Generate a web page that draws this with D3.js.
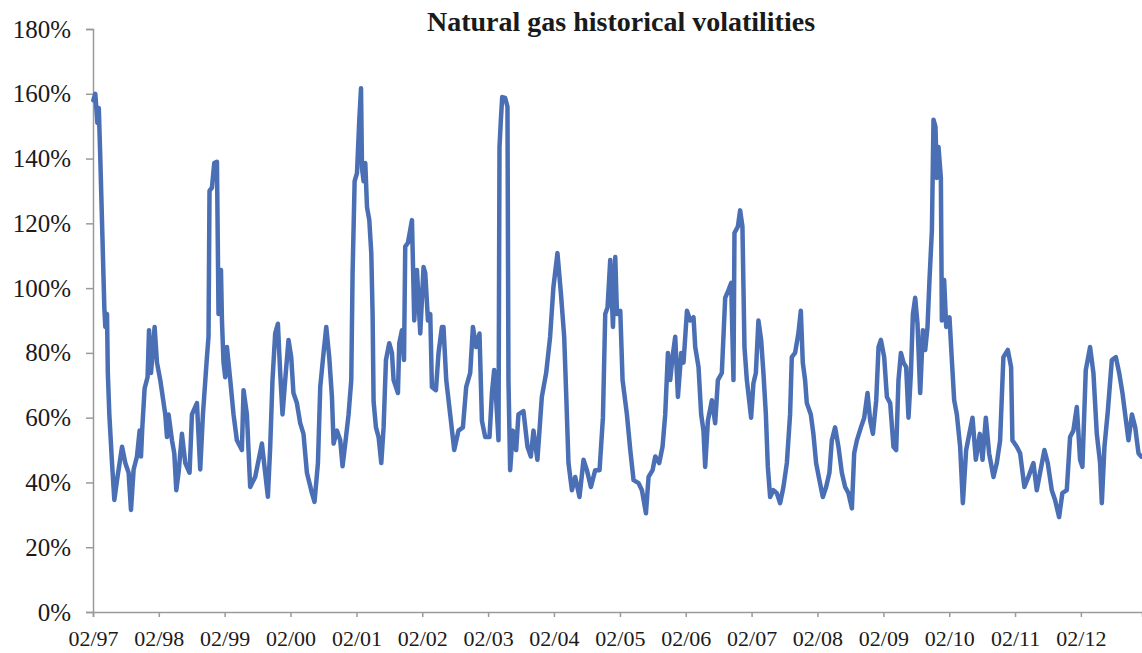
<!DOCTYPE html>
<html>
<head>
<meta charset="utf-8">
<script src="https://cdn.jsdelivr.net/npm/d3@7"></script>
<style>
  html, body { margin: 0; padding: 0; background: #ffffff; }
  svg { display: block; }
</style>
</head>
<body>
<svg id="chart" width="1142" height="653"></svg>
<script>
// ---- data (decimal years, volatility in %) ----
const title = "Natural gas historical volatilities";
const yTicks = [0, 20, 40, 60, 80, 100, 120, 140, 160, 180];
const xTickYears = [1997, 1998, 1999, 2000, 2001, 2002, 2003, 2004, 2005, 2006, 2007, 2008, 2009, 2010, 2011, 2012];

const dates = [
  1997.090, 1997.120, 1997.151, 1997.173, 1997.196, 1997.257, 1997.272, 1997.298, 1997.310, 1997.333,
  1997.374, 1997.409, 1997.450, 1997.526, 1997.576, 1997.626, 1997.662, 1997.702, 1997.753, 1997.793,
  1997.814, 1997.834, 1997.869, 1997.914, 1997.936, 1997.966, 1998.021, 1998.057, 1998.107, 1998.183,
  1998.209, 1998.233, 1998.285, 1998.320, 1998.350, 1998.385, 1998.436, 1998.487, 1998.552, 1998.588,
  1998.664, 1998.714, 1998.755, 1998.816, 1998.840, 1998.855, 1998.892, 1998.927, 1998.968, 1998.992,
  1999.029, 1999.044, 1999.068, 1999.094, 1999.120, 1999.170, 1999.220, 1999.271, 1999.347, 1999.372,
  1999.423, 1999.473, 1999.549, 1999.651, 1999.742, 1999.777, 1999.812, 1999.853, 1999.894, 1999.929,
  1999.964, 2000.005, 2000.055, 2000.096, 2000.130, 2000.182, 2000.232, 2000.282, 2000.334, 2000.410,
  2000.449, 2000.501, 2000.536, 2000.586, 2000.627, 2000.672, 2000.713, 2000.738, 2000.789, 2000.839,
  2000.874, 2000.915, 2000.965, 2001.006, 2001.026, 2001.057, 2001.093, 2001.128, 2001.154, 2001.169,
  2001.193, 2001.219, 2001.245, 2001.280, 2001.310, 2001.330, 2001.345, 2001.381, 2001.421, 2001.462,
  2001.497, 2001.533, 2001.583, 2001.624, 2001.649, 2001.715, 2001.735, 2001.776, 2001.807, 2001.826,
  2001.867, 2001.902, 2001.928, 2001.963, 2002.004, 2002.054, 2002.104, 2002.130, 2002.171, 2002.206,
  2002.231, 2002.292, 2002.332, 2002.383, 2002.407, 2002.449, 2002.509, 2002.570, 2002.635, 2002.702,
  2002.752, 2002.813, 2002.854, 2002.904, 2002.954, 2002.991, 2003.041, 2003.106, 2003.143, 2003.177,
  2003.208, 2003.243, 2003.258, 2003.279, 2003.299, 2003.344, 2003.379, 2003.394, 2003.420, 2003.461,
  2003.511, 2003.546, 2003.622, 2003.683, 2003.734, 2003.774, 2003.834, 2003.901, 2003.967, 2004.027,
  2004.077, 2004.138, 2004.190, 2004.240, 2004.270, 2004.305, 2004.357, 2004.407, 2004.472, 2004.533,
  2004.584, 2004.645, 2004.710, 2004.776, 2004.827, 2004.862, 2004.897, 2004.938, 2004.979, 2005.014,
  2005.040, 2005.090, 2005.125, 2005.191, 2005.242, 2005.292, 2005.368, 2005.419, 2005.480, 2005.520,
  2005.581, 2005.622, 2005.682, 2005.732, 2005.773, 2005.814, 2005.849, 2005.884, 2005.925, 2005.966,
  2006.016, 2006.051, 2006.103, 2006.153, 2006.203, 2006.229, 2006.279, 2006.319, 2006.354, 2006.380,
  2006.421, 2006.482, 2006.532, 2006.573, 2006.633, 2006.684, 2006.734, 2006.775, 2006.810, 2006.825,
  2006.877, 2006.911, 2006.946, 2006.977, 2007.013, 2007.048, 2007.078, 2007.113, 2007.150, 2007.189,
  2007.230, 2007.265, 2007.302, 2007.332, 2007.367, 2007.417, 2007.468, 2007.519, 2007.569, 2007.621,
  2007.670, 2007.696, 2007.746, 2007.796, 2007.833, 2007.863, 2007.898, 2007.924, 2007.985, 2008.024,
  2008.065, 2008.115, 2008.167, 2008.217, 2008.267, 2008.303, 2008.353, 2008.404, 2008.455, 2008.505,
  2008.555, 2008.607, 2008.642, 2008.683, 2008.744, 2008.794, 2008.844, 2008.885, 2008.926, 2008.976,
  2009.011, 2009.047, 2009.097, 2009.138, 2009.188, 2009.238, 2009.279, 2009.314, 2009.351, 2009.390,
  2009.431, 2009.466, 2009.503, 2009.533, 2009.568, 2009.603, 2009.644, 2009.685, 2009.720, 2009.755,
  2009.785, 2009.822, 2009.846, 2009.876, 2009.897, 2009.922, 2009.958, 2009.973, 2010.008, 2010.039,
  2010.089, 2010.125, 2010.160, 2010.201, 2010.251, 2010.292, 2010.342, 2010.439, 2010.489, 2010.550,
  2010.591, 2010.641, 2010.691, 2010.757, 2010.808, 2010.858, 2010.908, 2010.975, 2011.025, 2011.045,
  2011.112, 2011.162, 2011.227, 2011.288, 2011.364, 2011.415, 2011.465, 2011.531, 2011.582, 2011.643,
  2011.693, 2011.754, 2011.804, 2011.871, 2011.921, 2011.971, 2012.023, 2012.073, 2012.108, 2012.159,
  2012.224, 2012.275, 2012.326, 2012.376, 2012.402, 2012.442, 2012.493, 2012.554, 2012.615, 2012.665,
  2012.715, 2012.756, 2012.806, 2012.858, 2012.908, 2012.958, 2012.999
];

const vols = [
  158, 160, 151, 155.6, 140, 94, 88, 92, 74, 61,
  46, 34.6, 40.7, 51, 46, 43, 31.5, 44, 48, 56,
  48, 57, 69, 72.5, 87, 73.8, 88, 77, 71.6, 61,
  54, 61, 53, 49, 37.6, 43, 55, 46, 43, 61,
  64.5, 44, 61, 78.7, 85, 130, 131, 138.6, 139, 92,
  105.6, 90, 77, 72.5, 81.8, 71.6, 61, 53, 50, 68.5,
  61, 38.6, 41.7, 52, 35.6, 51, 71.6, 86, 89, 73.8,
  61, 71.6, 84, 78.7, 67.6, 64.5, 58.3, 55, 43, 36.7,
  34, 46, 69.5, 80, 88, 78.7, 66.4, 52, 56, 53,
  45, 52, 61, 71.6, 104.6, 133, 135.5, 152, 161.7, 137,
  133, 138.6, 125, 121, 110.8, 92, 65, 57, 54, 46,
  57, 77.8, 83, 80, 71.6, 67.6, 83, 87, 77.8, 112.8,
  114, 118, 121, 90, 105.6, 86, 106.5, 104.6, 90, 92,
  69.5, 68.5, 80, 88, 88, 71.6, 61, 50, 56, 57,
  69.5, 73.8, 88, 81.8, 86, 59, 54, 54, 67.6, 74.7,
  65.4, 53, 143.6, 152, 159, 158.7, 156, 71.6, 43.8, 56,
  50, 61, 62, 51, 48, 56, 47, 66.4, 73.8, 85,
  100.3, 110.8, 98.5, 85, 67.6, 46, 37.6, 41.7, 35.5, 47,
  43.8, 38.6, 43.8, 43.8, 60, 92, 94, 108.7, 88, 109.6,
  92, 93, 71.6, 61, 50, 40.7, 39.8, 37.6, 30.5, 41.7,
  43.8, 48, 46, 51, 61, 80, 71.6, 78.7, 85, 66.4,
  80, 77, 93, 90, 91, 81.8, 75.6, 61, 56, 44.8,
  59, 65.4, 58.3, 71.6, 73.8, 97, 99.4, 101.6, 71.6, 117,
  119, 124, 119, 81.8, 71.6, 65.4, 60, 70.6, 73.8, 90,
  84, 73.8, 61, 44.8, 35.5, 37.6, 36.7, 33.6, 38.6, 46,
  61, 78.7, 80, 86, 93, 77, 71.6, 64.5, 61, 55,
  46, 40.7, 35.5, 38.6, 43, 53, 57, 51, 43, 38.6,
  36.7, 32, 49, 53, 57, 60, 67.6, 59, 55, 65.4,
  81.8, 84, 78.7, 66.4, 64.5, 51, 50, 71.6, 80, 77,
  75.6, 60, 73.8, 92, 97, 89, 67.6, 87, 80.9, 88,
  102.5, 118, 152, 149.8, 134, 143.6, 134, 90, 102.5, 88,
  91, 77.8, 65.4, 61, 51, 33.6, 50, 60, 47, 55,
  47, 60, 49, 41.7, 46, 53, 78.7, 80.9, 75.6, 53,
  51, 49, 38.6, 41.7, 46, 37.6, 43, 50, 46, 37.6,
  34.6, 29.3, 36.7, 37.6, 54, 56, 63.3, 47, 44.8, 74.7,
  81.8, 73.8, 55, 46, 33.6, 51, 62, 77.8, 78.7, 73.8,
  67.6, 61, 53, 61, 57, 49, 48
];

// ---- helpers ----
function decToDate(t) {
  const yr = Math.floor(t);
  const start = new Date(yr, 0, 1).getTime();
  const end = new Date(yr + 1, 0, 1).getTime();
  return new Date(start + (t - yr) * (end - start));
}
const data = dates.map((d, i) => ({ date: decToDate(d), v: vols[i] / 100 }));

// ---- layout ----
const svg = d3.select("#chart");
const M = { l: 93, r: 1142, t: 29, b: 612 };

const x = d3.scaleTime()
  .domain([new Date(1997, 1, 1), new Date(2013, 0, 5)])
  .range([M.l, M.r]);
const y = d3.scaleLinear().domain([0, 1.8]).range([M.b, M.t]);

const fontFam = "'Liberation Serif', 'Times New Roman', Times, serif";
const textColor = "#1a1a1a";
const axisColor = "#9a9a9a";

// title
svg.append("text")
  .attr("x", 621).attr("y", 31)
  .attr("text-anchor", "middle")
  .attr("font-family", fontFam)
  .attr("font-weight", "bold")
  .attr("font-size", 28)
  .attr("fill", textColor)
  .text(title);

// y axis
const yAxis = d3.axisLeft(y)
  .tickValues(yTicks.map(d => d / 100))
  .tickFormat(d => Math.round(d * 100) + "%")
  .tickSize(7).tickPadding(15);
const gy = svg.append("g").attr("transform", `translate(${M.l},0)`).call(yAxis);
gy.select(".domain").attr("stroke", axisColor).attr("stroke-width", 1.5);
gy.selectAll(".tick line").attr("stroke", axisColor).attr("stroke-width", 1.5);
gy.selectAll(".tick text")
  .attr("font-family", fontFam).attr("font-size", 25).attr("fill", textColor);

// x axis
const xAxis = d3.axisBottom(x)
  .tickValues(xTickYears.map(yr => new Date(yr, 1, 1)))
  .tickFormat(d3.timeFormat("%m/%y"))
  .tickSize(5).tickPadding(13);
const gx = svg.append("g").attr("transform", `translate(0,${M.b})`).call(xAxis);
gx.select(".domain").attr("stroke", axisColor).attr("stroke-width", 1.5);
gx.selectAll(".tick line").attr("stroke", axisColor).attr("stroke-width", 1.5);
gx.selectAll(".tick text")
  .attr("font-family", fontFam).attr("font-size", 22).attr("fill", textColor);

// line
const line = d3.line()
  .x(d => x(d.date))
  .y(d => y(d.v));

svg.append("path")
  .datum(data)
  .attr("fill", "none")
  .attr("stroke", "#4a6fb5")
  .attr("stroke-width", 4.5)
  .attr("stroke-linejoin", "round")
  .attr("stroke-linecap", "round")
  .attr("d", line);
</script>
</body>
</html>
